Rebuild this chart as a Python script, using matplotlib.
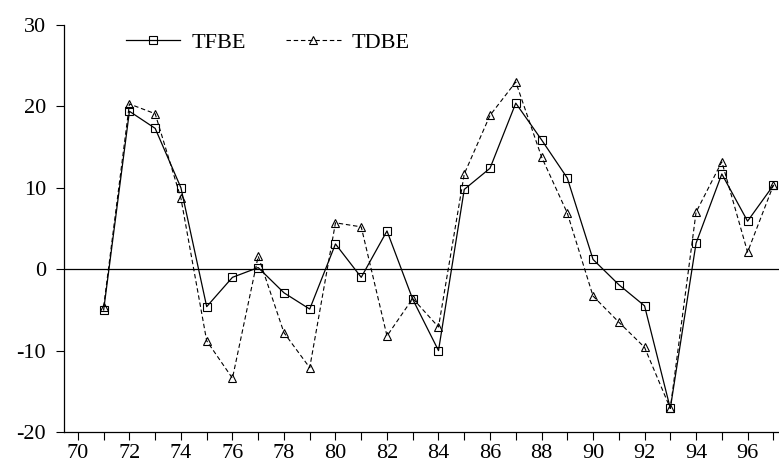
import numpy as np
import matplotlib
matplotlib.use('Agg')
import matplotlib.pyplot as plt

plt.rcParams['font.family'] = ['Liberation Serif', 'DejaVu Serif']
plt.rcParams['axes.unicode_minus'] = False

years = list(range(71, 98))
tfbe = [-5.0, 19.4, 17.3, 10.0, -4.6, -1.0, 0.2, -2.9, -4.9, 3.1,
        -1.0, 4.7, -3.7, -10.0, 9.8, 12.4, 20.4, 15.9, 11.2, 1.2,
        -1.9, -4.5, -17.1, 3.2, 11.7, 5.9, 10.3]
tdbe = [-4.6, 20.3, 19.1, 8.7, -8.8, -13.4, 1.6, -7.8, -12.1, 5.7,
        5.2, -8.2, -3.6, -7.1, 11.7, 18.9, 23.0, 13.8, 6.9, -3.3,
        -6.5, -9.6, -17.1, 7.0, 13.2, 2.1, 10.3]
xticks = list(range(70, 97, 2))
yticks = [-20, -10, 0, 10, 20, 30]

fig = plt.figure(figsize=(7.79, 4.63), dpi=100)
ax = fig.add_axes([64/779, 1 - 432/463, 1 - 64/779, (432 - 25)/463])

ax.axhline(0, color='black', linewidth=0.9, zorder=1)
ax.plot(years, tfbe, color='black', linestyle='-', linewidth=0.9,
        marker='s', markersize=5.5, markerfacecolor='none',
        markeredgecolor='black', markeredgewidth=0.8, label='TFBE')
ax.plot(years, tdbe, color='black', linestyle=(0, (4, 2.5)), linewidth=0.8,
        marker='^', markersize=6, markerfacecolor='none',
        markeredgecolor='black', markeredgewidth=0.8, label='TDBE')

ax.set_xlim(69.46, 97.22)
ax.set_ylim(-20, 30)
ax.set_xticks(range(70, 98), minor=True)
ax.set_xticks(xticks)
ax.set_yticks(yticks)
ax.tick_params(axis='both', which='both', direction='out', length=6,
               width=0.8, labelsize=16)
ax.tick_params(axis='y', pad=7)
ax.tick_params(axis='x', pad=2.5)
ax.spines['top'].set_visible(False)
ax.spines['right'].set_visible(False)
for s in ['left', 'bottom']:
    ax.spines[s].set_linewidth(0.9)

ax.legend(loc='upper left', bbox_to_anchor=(126/779, 1 - 32/463),
          bbox_transform=fig.transFigure, ncol=2, frameon=False,
          fontsize=16, handlelength=2.45, numpoints=1, columnspacing=1.8,
          handletextpad=0.5, borderaxespad=0, borderpad=0)

fig.savefig('out.png', dpi=100)
